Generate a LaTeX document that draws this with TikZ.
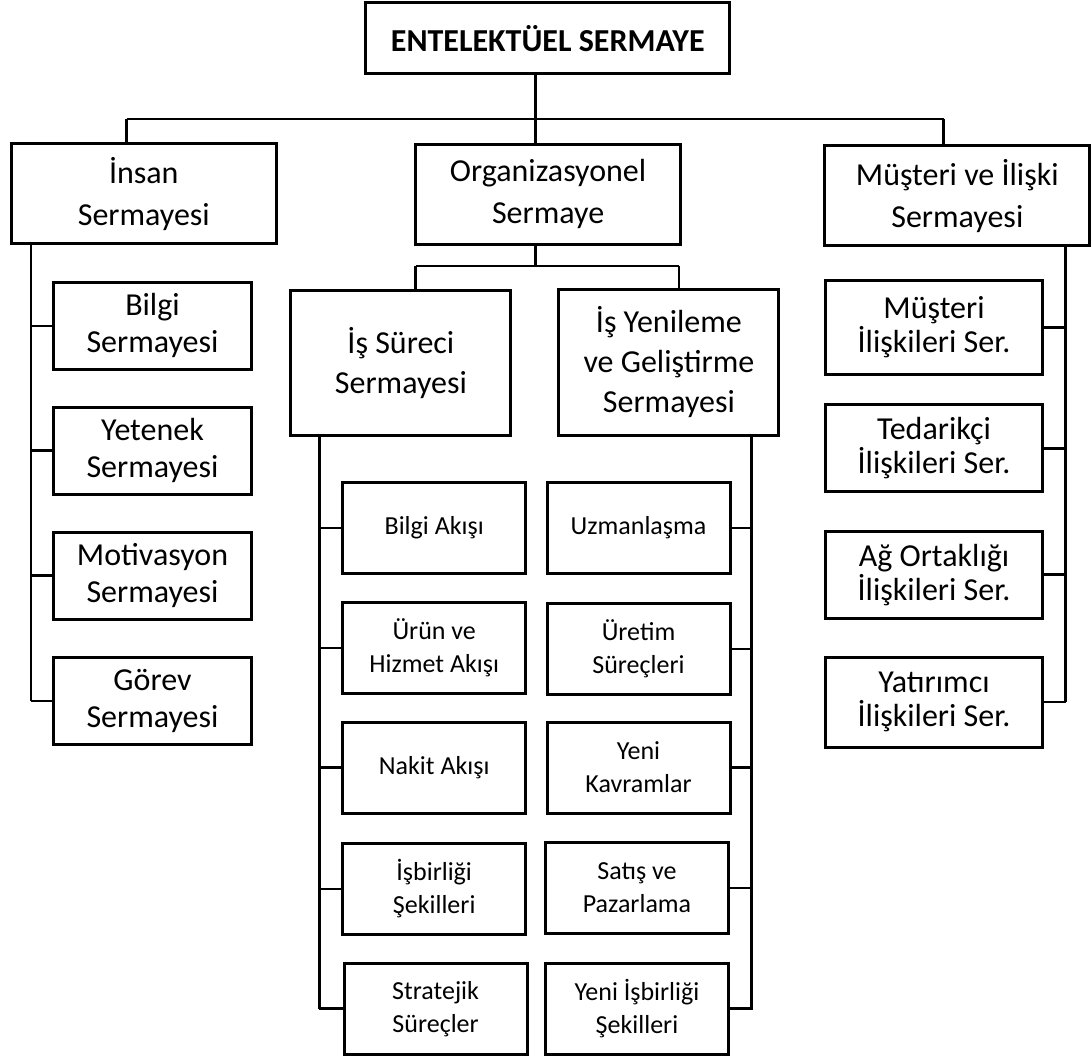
\documentclass[tikz,border=0pt]{standalone}
\usepackage{fontspec}
\setmainfont{Carlito}
\begin{document}
\begin{tikzpicture}[x=1pt,y=-1pt,
  box/.style={draw, line width=3pt, rectangle, align=center, inner sep=0pt},
  big/.style={box, font=\fontsize{32}{42}\selectfont},
  mid/.style={box, font=\fontsize{32}{40}\selectfont},
  lcol/.style={box, minimum width=198pt, minimum height=87pt, font=\fontsize{32}{37}\selectfont},
  rcol/.style={box, minimum width=217pt, minimum height=87pt, font=\fontsize{32}{34}\selectfont},
  small/.style={box, minimum width=183pt, minimum height=91pt, font=\fontsize{26}{33}\selectfont},
  conn/.style={line width=2.8pt}]
\useasboundingbox (0,0) rectangle (1092,1059);

% top
\node[box, minimum width=364pt, minimum height=71pt, font=\fontsize{32}{40}\selectfont\bfseries] (top) at (547.7,38.4) {ENTELEKTÜEL SERMAYE};

% level 1
\node[big, minimum width=265pt, minimum height=100pt] (insan) at (143.8,194) {İnsan\\Sermayesi};
\node[big, minimum width=265pt, minimum height=100pt] (org) at (548.1,194.3) {Organizasyonel\\Sermaye};
\node[big, minimum width=265pt, minimum height=100pt] (mus) at (957.3,195.9) {Müşteri ve İlişki\\Sermayesi};

% level 2 (org)
\node[mid, minimum width=220pt, minimum height=144pt] (surec) at (400.9,363) {İş Süreci\\Sermayesi};
\node[mid, minimum width=220pt, minimum height=145pt] (yen) at (668.9,362.5) {İş Yenileme\\ve Geliştirme\\Sermayesi};

% left column
\node[lcol] (bilgi) at (152.5,325.9) {Bilgi\\Sermayesi};
\node[lcol] (yetenek) at (152.5,450.7) {Yetenek\\Sermayesi};
\node[lcol] (motiv) at (152.5,575.7) {Motivasyon\\Sermayesi};
\node[lcol] (gorev) at (152.5,701) {Görev\\Sermayesi};

% right column
\node[rcol, minimum height=93pt] (mil) at (934,327.5) {Müşteri\\İlişkileri Ser.};
\node[rcol] (ted) at (934,448.3) {Tedarikçi\\İlişkileri Ser.};
\node[rcol] (ag) at (934,574.7) {Ağ Ortaklığı\\İlişkileri Ser.};
\node[rcol, minimum height=90pt] (yat) at (934,702) {Yatırımcı\\İlişkileri Ser.};

% middle left
\node[small] (ba) at (434.2,528) {Bilgi Akışı};
\node[small] (uh) at (434.2,648) {Ürün ve\\Hizmet Akışı};
\node[small] (na) at (434.2,767.5) {Nakit Akışı};
\node[small] (is) at (434.2,889) {İşbirliği\\Şekilleri};
\node[small] (ss) at (435.6,1008.8) {Stratejik\\Süreçler};

% middle right
\node[small] (uz) at (638.5,528) {Uzmanlaşma};
\node[small] (us) at (638.5,649) {Üretim\\Süreçleri};
\node[small] (yk) at (638.5,767.5) {Yeni\\Kavramlar};
\node[small] (sp) at (637,888) {Satış ve\\Pazarlama};
\node[small] (yi) at (637,1008.8) {Yeni İşbirliği\\Şekilleri};

% junction coordinates
\coordinate (hub) at (535.5,119);
\coordinate (hl) at (126.7,119);
\coordinate (hr) at (943.6,119);
\coordinate (ohub) at (535.5,266);
\coordinate (ol) at (415.7,266);
\coordinate (or) at (679,266);
\coordinate (lsp) at (31,242);
\coordinate (lspe) at (31,701);
\coordinate (rsp) at (1065.7,246);
\coordinate (rspe) at (1065.7,702);
\coordinate (msl) at (319.3,435);
\coordinate (msle) at (319.3,1008.8);
\coordinate (msr) at (751.7,437);
\coordinate (msre) at (751.7,1010);

% top tree
\draw[conn] (top.south -| hub) -- (hub);
\draw[conn] (hl) -- (hr);
\draw[conn] (hl) -- (hl |- insan.north);
\draw[conn] (hub) -- (hub |- org.north);
\draw[conn] (hr) -- (hr |- mus.north);

% org tree
\draw[conn] (org.south -| ohub) -- (ohub);
\draw[conn] (ol) -- (or);
\draw[conn] (ol) -- (ol |- surec.north);
\draw[conn] (or) -- (or |- yen.north);

% left spine
\draw[conn] (lsp) -- (lspe);
\foreach \n in {bilgi,yetenek,motiv,gorev} \draw[conn] (lsp |- \n.west) -- (\n.west);

% right spine
\draw[conn] (rsp) -- (rspe);
\foreach \n in {mil,ted,ag,yat} \draw[conn] (rsp |- \n.east) -- (\n.east);

% middle spines
\draw[conn] (msl) -- (msle);
\foreach \n in {ba,uh,na,is,ss} \draw[conn] (msl |- \n.west) -- (\n.west);
\draw[conn] (msr) -- (msre);
\foreach \n in {uz,us,yk,sp,yi} \draw[conn] (msr |- \n.east) -- (\n.east);
\end{tikzpicture}
\end{document}
